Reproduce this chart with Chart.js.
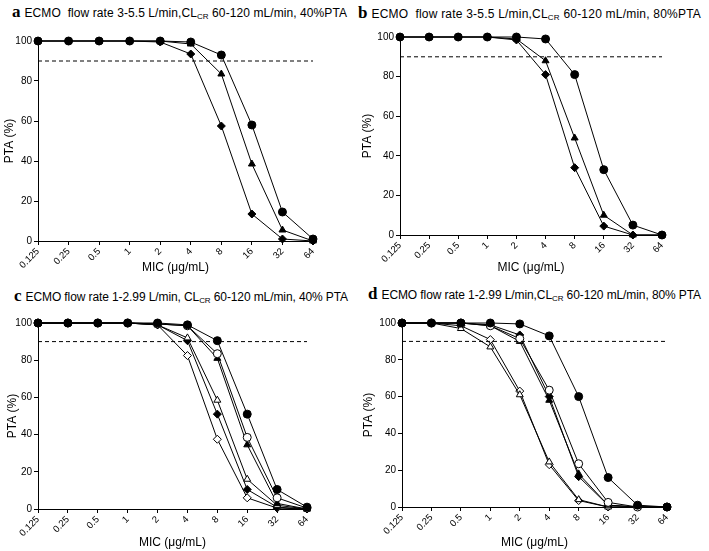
<!DOCTYPE html>
<html><head><meta charset="utf-8">
<script src="https://cdn.jsdelivr.net/npm/chart.js@4.4.0/dist/chart.umd.min.js"></script>
<style>
body{margin:0;width:709px;height:551px;background:#fff;position:relative;overflow:hidden;font-family:"Liberation Sans",Arial,sans-serif;}
canvas{position:absolute;}
.title{position:absolute;white-space:nowrap;color:#000;font-size:12px;line-height:16px;}
.title b{font-family:"Liberation Serif","Times New Roman",serif;font-size:17px;font-weight:bold;margin-right:4px;}
.title sub{font-size:8px;vertical-align:baseline;position:relative;top:2px;}
</style></head><body>
<div class="title" id="ta" style="left:12px;top:4px"><b>a</b><span class="tx">ECMO&nbsp; flow rate 3-5.5 L/min,CL<sub>CR</sub> 60-120 mL/min, 40%PTA</span></div>
<div class="title" id="tb" style="left:358px;top:5px"><b>b</b><span class="tx">ECMO&nbsp; flow rate 3-5.5 L/min,CL<sub>CR</sub> 60-120 mL/min, 80%PTA</span></div>
<div class="title" id="tc" style="left:14px;top:288px"><b>c</b><span class="tx">ECMO flow rate 1-2.99 L/min, CL<sub>CR</sub> 60-120 mL/min, 40% PTA</span></div>
<div class="title" id="td" style="left:368px;top:286px"><b>d</b><span class="tx">ECMO flow rate 1-2.99 L/min,CL<sub>CR</sub> 60-120 mL/min, 80% PTA</span></div>
<canvas id="ca"></canvas><canvas id="cb"></canvas><canvas id="cc"></canvas><canvas id="cd"></canvas>
<script>
// ---- data ----
const categories = ['0.125','0.25','0.5','1','2','4','8','16','32','64'];
const yTickValues = [0,20,40,60,80,100];
const targetPTA = 90;
const xTitle = 'MIC (\u03bcg/mL)';
const yTitle = 'PTA (%)';

// panel a (ECMO 3-5.5 L/min, 40% PTA)
const aCircle   = [100,100,100,100,100,99.5,93,58,14.5,1];
const aTriangle = [100,100,100,100,100,98.5,83.5,38.5,5.5,0];
const aDiamond  = [100,100,100,100,99.5,93.5,57.5,13.5,1,0];

// panel b (ECMO 3-5.5 L/min, 80% PTA)
const bCircle   = [100,100,100,100,100,99,81,33,5,0];
const bTriangle = [100,100,100,100,99,88,49,10,0,0];
const bDiamond  = [100,100,100,100,98.5,81,34,4.5,0,0];

// panel c (ECMO 1-2.99 L/min, 40% PTA)
const cCircleFilled   = [100,100,100,100,100,99,90.5,51,10.5,1];
const cCircleOpen     = [100,100,100,100,99.5,98.5,83.5,38.5,6,0.5];
const cTriangleFilled = [100,100,100,100,99.5,98.5,81,34.5,3,0];
const cTriangleOpen   = [100,100,100,100,99,92,58.5,16,2,0];
const cDiamondFilled  = [100,100,100,100,99,90.5,51,10.5,1,0];
const cDiamondOpen    = [100,100,100,100,99,82.5,37.5,6,0.5,0];

// panel d (ECMO 1-2.99 L/min, 80% PTA)
const dCircleFilled   = [100,100,100,100,99.5,93,60,16,1,0];
const dCircleOpen     = [100,100,100,98.5,91.5,63.5,23.5,2.5,0,0];
const dTriangleFilled = [100,100,100,98.5,90,58,18,1,0,0];
const dTriangleOpen   = [100,100,97,87,61,24.5,4,0,0,0];
const dDiamondFilled  = [100,100,100,99,93.5,60,16.5,1,0,0];
const dDiamondOpen    = [100,100,98.5,91,63,23,3.5,0,0,0];

// ---- helpers ----
const FONT = '"Liberation Sans", Arial, sans-serif';
function series(data, shape, filled){
  return {
    data: data,
    borderColor:'#000', borderWidth:1,
    pointStyle: shape,
    pointRadius: 4,
    pointBackgroundColor: filled ? '#000' : '#fff',
    pointBorderColor:'#000', pointBorderWidth:1,
    tension:0, clip:false
  };
}
function dashed(){
  return {
    data: categories.map(()=>targetPTA),
    borderColor:'#000', borderWidth:1, borderDash:[4,3],
    pointRadius:0, clip:false
  };
}
function makePanel(id, datasets, box){
  const cv = document.getElementById(id);
  cv.width = box.cw; cv.height = box.ch;
  cv.style.left = box.cx+'px'; cv.style.top = box.cy+'px';
  cv.style.width = box.cw+'px'; cv.style.height = box.ch+'px';
  new Chart(cv, {
    type:'line',
    data:{labels:categories, datasets:[dashed()].concat(datasets)},
    options:{
      responsive:false, animation:false, devicePixelRatio:1,
      layout:{padding:{left:0, top:box.top-box.cy, right:(box.cx+box.cw)-box.right, bottom:0}},
      plugins:{legend:{display:false}, tooltip:{enabled:false}},
      scales:{
        x:{
          type:'category', offset:false,
          grid:{display:true, drawOnChartArea:false, drawTicks:true, tickLength:4, color:'#000'},
          border:{display:true, color:'#000', width:1},
          ticks:{color:'#000', font:{family:FONT, size:9.5}, minRotation:45, maxRotation:45, padding:1, autoSkip:false},
          title:{display:true, text:xTitle, color:'#000', font:{family:FONT, size:12}, padding:{top:0,bottom:1}},
          afterFit:(s)=>{ s.height = (box.cy+box.ch) - box.bottom; }
        },
        y:{
          min:yTickValues[0], max:yTickValues[yTickValues.length-1],
          grid:{display:true, drawOnChartArea:false, drawTicks:true, tickLength:4, color:'#000'},
          border:{display:true, color:'#000', width:1},
          ticks:{color:'#000', font:{family:FONT, size:10}, stepSize:yTickValues[1]-yTickValues[0], padding:2},
          title:{display:true, text:yTitle, color:'#000', font:{family:FONT, size:12}, padding:{top:box.ytp,bottom:0}},
          afterFit:(s)=>{ s.width = box.left - box.cx; }
        }
      }
    }
  });
}

makePanel('ca', [series(aCircle,'circle',true), series(aTriangle,'triangle',true), series(aDiamond,'rectRot',true)],
  {cx:0, cy:25, cw:354, ch:251, left:38, top:41, right:313, bottom:241, ytp:2});
makePanel('cb', [series(bCircle,'circle',true), series(bTriangle,'triangle',true), series(bDiamond,'rectRot',true)],
  {cx:354, cy:22, cw:355, ch:254, left:400, top:37, right:662, bottom:235, ytp:6});
makePanel('cc', [series(cCircleFilled,'circle',true), series(cCircleOpen,'circle',false),
  series(cTriangleFilled,'triangle',true), series(cTriangleOpen,'triangle',false),
  series(cDiamondFilled,'rectRot',true), series(cDiamondOpen,'rectRot',false)],
  {cx:0, cy:305, cw:354, ch:246, left:38, top:323, right:307, bottom:509, ytp:5});
makePanel('cd', [series(dCircleFilled,'circle',true), series(dCircleOpen,'circle',false),
  series(dTriangleFilled,'triangle',true), series(dTriangleOpen,'triangle',false),
  series(dDiamondFilled,'rectRot',true), series(dDiamondOpen,'rectRot',false)],
  {cx:354, cy:305, cw:355, ch:246, left:402, top:323, right:667, bottom:507, ytp:7});

// fit title widths to reference extents
const titleRight = {ta:347, tb:701, tc:348, td:701};
Object.keys(titleRight).forEach(k=>{
  const sp = document.querySelector('#'+k+' .tx');
  const n = sp.textContent.length;
  const r = sp.getBoundingClientRect().right;
  sp.style.letterSpacing = ((titleRight[k]-r)/n)+'px';
});
</script>
</body></html>
